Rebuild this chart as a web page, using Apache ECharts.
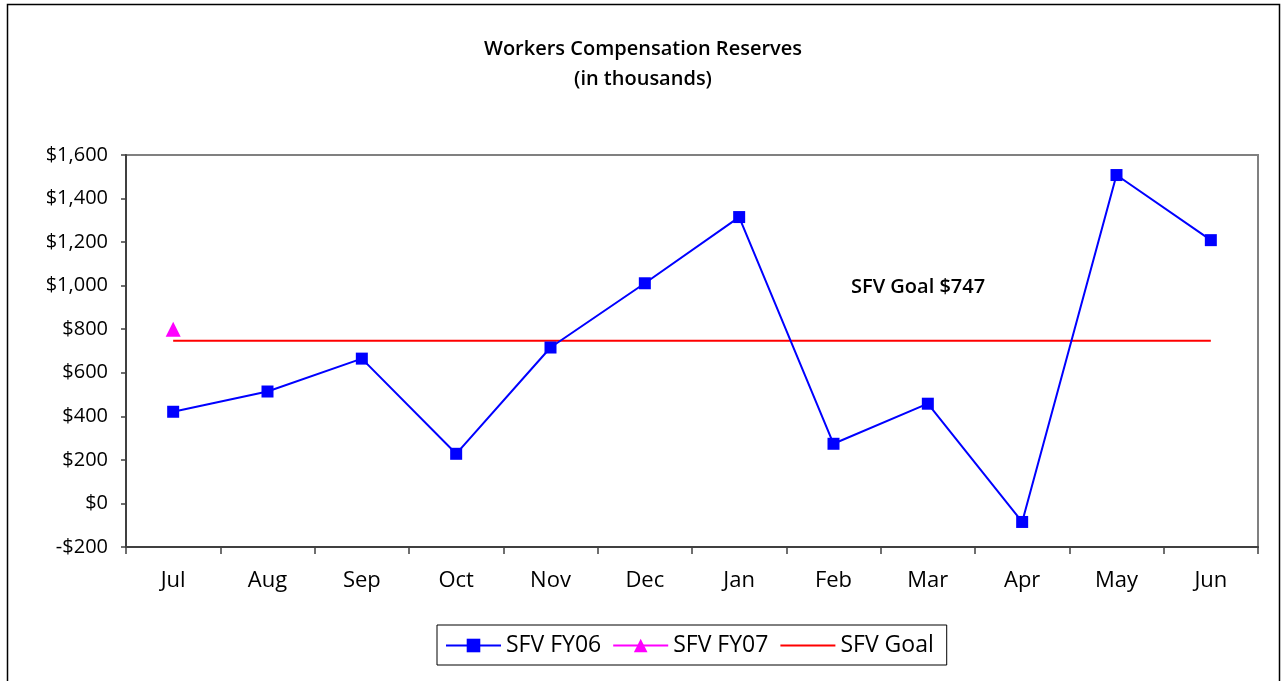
<!DOCTYPE html>
<html>
<head>
<meta charset="utf-8">
<script src="https://cdn.jsdelivr.net/npm/echarts@6/dist/echarts.min.js"></script>
<style>
html,body{margin:0;padding:0;background:#fff;}
#c{width:1286px;height:681px;}
</style>
</head>
<body>
<div id="c"></div>
<script>
const categories = ['Jul','Aug','Sep','Oct','Nov','Dec','Jan','Feb','Mar','Apr','May','Jun'];
const fy06 = [421, 514, 665, 228, 716, 1011, 1315, 274, 458, -85, 1508, 1209];
const fy07 = [800, null, null, null, null, null, null, null, null, null, null, null];
const goalValue = 747;
const goal = categories.map(() => goalValue);
const yTicks = {min: -200, max: 1600, interval: 200};

const FONT = '"Open Sans", "Noto Sans", sans-serif';
function money(v){
  const s = Math.abs(v).toString().replace(/\B(?=(\d{3})+(?!\d))/g, ',');
  return (v < 0 ? '-$' : '$') + s;
}

const chart = echarts.init(document.getElementById('c'), null, {renderer:'canvas'});
chart.setOption({
  backgroundColor: '#fff',
  animation: false,
  title: {
    text: 'Workers Compensation Reserves\n(in thousands)',
    left: 'center',
    top: 29,
    textStyle: {fontFamily: FONT, fontSize: 20, fontWeight: 600, color: '#000', lineHeight: 30}
  },
  graphic: [
    {type: 'rect', shape: {x: 7.5, y: 4.5, width: 1272, height: 700}, style: {fill: 'none', stroke: '#000', lineWidth: 1.5}, silent: true, z: -1},
    {type: 'text', left: 851, top: 277, style: {text: 'SFV Goal $' + goalValue, font: '600 20px ' + FONT, fill: '#000'}}
  ],
  grid: {left: 126, top: 155, right: 28, bottom: 134, show: true, borderColor: '#808080', borderWidth: 2, backgroundColor: '#fff'},
  legend: {
    top: 625,
    left: 437,
    padding: [9, 13, 8, 8],
    itemWidth: 55,
    itemHeight: 17,
    itemGap: 11,
    borderColor: '#000',
    borderWidth: 1,
    textStyle: {fontFamily: FONT, fontSize: 23, color: '#000'},
    data: ['SFV FY06', 'SFV FY07', 'SFV Goal']
  },
  xAxis: {
    type: 'category',
    data: categories,
    boundaryGap: true,
    axisLine: {show: true, onZero: false, lineStyle: {color: '#404040', width: 2}},
    axisTick: {show: true, length: 7, inside: false, lineStyle: {color: '#404040', width: 1.5}},
    axisLabel: {margin: 23, fontFamily: FONT, fontSize: 22, color: '#000'},
    splitLine: {show: false}
  },
  yAxis: {
    type: 'value',
    min: yTicks.min, max: yTicks.max, interval: yTicks.interval,
    axisLine: {show: true, lineStyle: {color: '#404040', width: 2}},
    axisTick: {show: true, length: 5, lineStyle: {color: '#404040', width: 1.5}},
    axisLabel: {margin: 18, fontFamily: FONT, fontSize: 20, color: '#000', formatter: money},
    splitLine: {show: false}
  },
  series: [
    {name: 'SFV FY06', type: 'line', data: fy06, symbol: 'rect', symbolSize: 12,
     lineStyle: {color: '#0000ff', width: 2}, itemStyle: {color: '#0000ff'}, z: 3},
    {name: 'SFV FY07', type: 'line', data: fy07, symbol: 'triangle', symbolSize: 15,
     lineStyle: {color: '#ff00ff', width: 2}, itemStyle: {color: '#ff00ff'}, z: 4},
    {name: 'SFV Goal', type: 'line', data: goal, symbol: 'none',
     lineStyle: {color: '#ff0000', width: 2}, itemStyle: {color: 'rgba(0,0,0,0)'}, z: 2}
  ]
});
</script>
</body>
</html>
